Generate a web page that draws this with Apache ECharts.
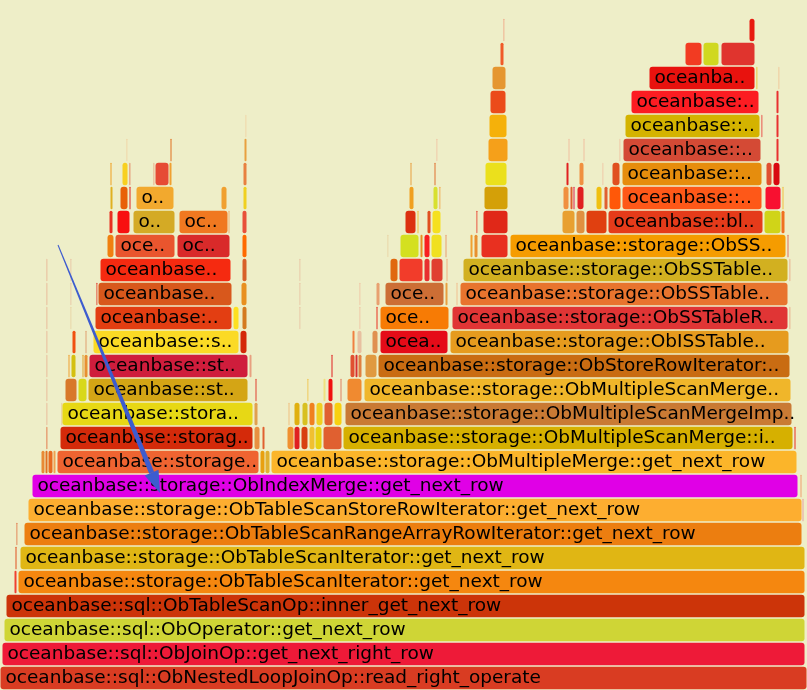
<!DOCTYPE html>
<html><head><meta charset="utf-8">
<script src="https://cdn.jsdelivr.net/npm/echarts@6/dist/echarts.min.js"></script>
<style>html,body{margin:0;padding:0;background:#eeeec8}#chart{width:807px;height:690px}</style>
</head><body><div id="chart"></div>
<script>
// Flame graph frames per stack level: [start, end, label] (x in sample units)
const level0 = [[0,807,'oceanbase::sql::ObNestedLoopJoinOp::read_right_operate']];
const level1 = [[2,805,'oceanbase::sql::ObJoinOp::get_next_right_row']];
const level2 = [[4,805,'oceanbase::sql::ObOperator::get_next_row']];
const level3 = [[6,805,'oceanbase::sql::ObTableScanOp::inner_get_next_row']];
const level4 = [[14,17,''],[18,805,'oceanbase::storage::ObTableScanIterator::get_next_row']];
const level5 = [[15,17,''],[20,805,'oceanbase::storage::ObTableScanIterator::get_next_row']];
const level6 = [[16,17,''],[24,802,'oceanbase::storage::ObTableScanRangeArrayRowIterator::get_next_row']];
const level7 = [[28,802,'oceanbase::storage::ObTableScanStoreRowIterator::get_next_row'],[802,804,'']];
const level8 = [[32,798,'oceanbase::storage::ObIndexMerge::get_next_row'],[800,802,'']];
const level9 = [[41,45,''],[45,48,''],[48,53,''],[53,56,''],[57,259,'oceanbase::storage..'],[260,265,''],[265,270,''],[271,797,'oceanbase::storage::ObMultipleMerge::get_next_row']];
const level10 = [[46,47,''],[60,253,'oceanbase::storag..'],[254,260,''],[262,265,''],[287,294,''],[294,300,''],[301,308,''],[309,315,''],[315,322,''],[323,342,''],[343,793,'oceanbase::storage::ObMultipleScanMerge::i..'],[794,796,'']];
const level11 = [[46,47,''],[61,62,''],[62,253,'oceanbase::stora..'],[254,258,''],[288,290,''],[294,300,''],[302,308,''],[309,315,''],[316,323,''],[324,333,''],[334,342,''],[345,792,'oceanbase::storage::ObMultipleScanMergeImp..']];
const level12 = [[46,47,''],[65,77,''],[78,87,''],[88,248,'oceanbase::st..'],[255,257,''],[307,308,''],[323,326,''],[328,333,''],[340,342,''],[347,362,''],[364,791,'oceanbase::storage::ObMultipleScanMerge..']];
const level13 = [[46,47,''],[68,70,''],[71,76,''],[82,84,''],[84,88,''],[89,248,'oceanbase::st..'],[249,252,''],[331,333,''],[350,355,''],[355,358,''],[358,362,''],[365,377,''],[378,790,'oceanbase::storage::ObStoreRowIterator:..']];
const level14 = [[46,47,''],[72,76,''],[85,87,''],[93,239,'oceanbase::s..'],[240,247,''],[352,355,''],[357,362,''],[372,378,''],[380,448,'ocea..'],[450,789,'oceanbase::storage::ObISSTable..']];
const level15 = [[46,47,''],[70,71,''],[95,232,'oceanbase:..'],[233,239,''],[242,247,''],[299,300,''],[359,360,''],[376,378,''],[380,449,'oce..'],[452,788,'oceanbase::storage::ObSSTableR..'],[789,790,'']];
const level16 = [[46,47,''],[70,71,''],[96,97,''],[98,232,'oceanbase..'],[241,247,''],[299,300,''],[359,360,''],[376,380,''],[385,444,'oce..'],[445,448,''],[456,458,''],[460,788,'oceanbase::storage::ObSSTable..']];
const level17 = [[46,47,''],[70,71,''],[100,231,'oceanbase..'],[242,247,''],[299,300,''],[390,398,''],[399,423,''],[424,430,''],[431,443,''],[446,448,''],[463,788,'oceanbase::storage::ObSSTable..'],[789,790,'']];
const level18 = [[107,114,''],[115,175,'oce..'],[177,230,'oc..'],[242,247,''],[387,388,''],[400,419,''],[420,423,''],[424,430,''],[431,442,''],[445,447,''],[470,473,''],[474,478,''],[481,508,''],[510,786,'oceanbase::storage::ObSS..'],[787,789,'']];
const level19 = [[109,113,''],[117,130,''],[133,175,'o..'],[179,228,'oc..'],[228,230,''],[242,247,''],[405,416,''],[417,419,''],[427,431,''],[432,441,''],[476,477,''],[483,508,''],[562,575,''],[576,585,''],[586,607,''],[608,763,'oceanbase::bl..'],[764,781,''],[781,785,'']];
const level20 = [[110,113,''],[120,128,''],[129,131,''],[136,174,'o..'],[221,227,''],[243,247,''],[409,414,''],[433,438,''],[439,440,''],[484,508,''],[563,569,''],[570,573,''],[573,575,''],[577,584,''],[596,602,''],[604,608,''],[609,621,''],[622,762,'oceanbase::..'],[765,781,''],[782,784,'']];
const level21 = [[110,112,''],[122,128,''],[129,130,''],[153,154,''],[155,169,''],[169,172,''],[243,247,''],[410,412,''],[434,436,''],[485,507,''],[566,569,''],[579,584,''],[602,603,''],[612,620,''],[622,762,'oceanbase::..'],[766,772,''],[773,780,'']];
const level22 = [[126,127,''],[170,172,''],[244,247,''],[436,437,''],[488,508,''],[568,570,''],[583,585,''],[619,620,''],[623,761,'oceanbase::..'],[776,779,'']];
const level23 = [[245,246,''],[489,507,''],[625,760,'oceanbase::..'],[761,762,''],[776,779,'']];
const level24 = [[490,506,''],[631,759,'oceanbase:..'],[776,779,'']];
const level25 = [[492,506,''],[649,755,'oceanba..'],[756,757,''],[778,779,'']];
const level26 = [[500,504,''],[685,702,''],[703,719,''],[721,755,'']];
const level27 = [[503,504,''],[749,755,'']];

// Fill colours, one per frame, same order as the level arrays (style only)
const colors = [
 ['#d93c22'],
 ['#ee1a38'],
 ['#cfd536'],
 ['#cc3409'],
 ['#f04030','#f5870f'],
 ['#e05020','#e0b614'],
 ['#e07040','#ec7e10'],
 ['#fdae30','#e8a0a0'],
 ['#e000e6','#f0a070'],
 ['#e88a35','#e07020','#e86a20','#f0a050','#ef6431','#e8a010','#e0b030','#fbb52a'],
 ['#e06030','#d42a0a','#e89040','#e06030','#f09030','#e02020','#d84010','#f0c030','#e8d010','#e06030','#d6b000','#e83020'],
 ['#e8b090','#e8c080','#e7d815','#e0a050','#f0c080','#e0b010','#d8c020','#f08020','#f0d020','#e06030','#f8d010','#c97a34'],
 ['#e8b090','#d8782a','#d8d81a','#d4a515','#e04030','#f0c040','#f0e080','#f01010','#e08060','#f08a30','#f0b62a'],
 ['#e8b090','#f0a030','#d4c010','#e0a030','#e89030','#cf1d3c','#e8a080','#e02020','#e05030','#d83030','#e08040','#e09a40','#c96c12'],
 ['#e8b090','#f05010','#e0a070','#fbda25','#d42808','#f08040','#e8c0a0','#e09050','#e50b18','#e69b1e'],
 ['#e8b090','#e8d0a0','#e33e12','#fde020','#d47a20','#e8c0a0','#f0c0a0','#e83020','#f77b05','#e03535','#e8a080'],
 ['#e8b090','#e8c0a0','#e03020','#d8581c','#e89020','#e8c0a0','#f0c0a0','#e8a070','#cc6e35','#e8a040','#f0c090','#e8742e'],
 ['#e8b090','#e8c0a0','#f52a10','#d8602a','#e8c0a0','#e06810','#f23c2a','#e83030','#e04030','#f0b080','#d2b020','#e8a080'],
 ['#f08010','#e9552e','#d92a2a','#ff6a00','#e8d0a0','#d4e020','#e89020','#f82020','#f0e020','#e8a070','#f0a030','#e89030','#e83020','#f59c00','#e07060'],
 ['#e83020','#f81010','#d4aa25','#f07820','#f0b070','#e8503a','#dc3010','#f0c040','#e05020','#f5e020','#e83020','#e02818','#e8a030','#e09040','#e04010','#e53b1a','#d0d418','#f07020'],
 ['#e0b020','#e86008','#e02020','#f2a92e','#f0a030','#f0d020','#f0a020','#d8e030','#f0a040','#d4a008','#f09040','#e06030','#e02050','#e02020','#f0c010','#e06030','#ff5808','#fe5818','#f81030','#f0c040'],
 ['#f0a020','#f8d020','#e07050','#e8a080','#e64b35','#f0a030','#e88040','#e8a040','#e07030','#ebe01c','#e02020','#f09040','#f0c0a0','#e05020','#e68d0d','#e05030','#d80810'],
 ['#f0d0a0','#e07020','#e8a040','#f0c0a0','#f5a01a','#f0c0a0','#f0c0a0','#f0c0a0','#d44a35','#e83030'],
 ['#f0d0a0','#f5b10a','#d4b300','#e83030','#e83030'],
 ['#eb4b1a','#fc1c22','#e83030'],
 ['#e59630','#e8120e','#e8c020','#f0c090'],
 ['#f05a28','#f23b22','#d0d820','#e0342e'],
 ['#f0a080','#e81a10']
];

const levels = [level0,level1,level2,level3,level4,level5,level6,level7,level8,level9,level10,level11,level12,level13,level14,level15,level16,level17,level18,level19,level20,level21,level22,level23,level24,level25,level26,level27];

const seriesData = [];
const labels = [];
const fills = [];
levels.forEach((lv, li) => {
  lv.forEach((f, fi) => {
    seriesData.push([f[0], f[1], li]);
    labels.push(f[2]);
    fills.push((colors[li] && colors[li][fi]) || '#e8a040');
  });
});

function renderItem(params, api) {
  const s = api.value(0), e = api.value(1), lv = api.value(2);
  const a = api.coord([s, lv + 1]);
  const b = api.coord([e, lv]);
  const x = a[0] + 0.5, y = a[1] + 0.75;
  const w = Math.max(b[0] - a[0] - 1, 0.8);
  const h = b[1] - a[1] - 1.5;
  const r = w > 6 ? 3 : Math.min(w / 2, 3);
  const children = [{
    type: 'rect',
    shape: { x: x, y: y, width: w, height: h, r: r },
    style: { fill: fills[params.dataIndex] }
  }];
  const t = labels[params.dataIndex];
  if (t) {
    children.push({
      type: 'text',
      style: {
        text: t, x: x + 5, y: y + h / 2 + 0.5,
        verticalAlign: 'middle', align: 'left',
        fill: '#000', font: '18.5px "DejaVu Sans"'
      }
    });
  }
  return { type: 'group', children: children };
}

// annotation arrow (drawn in pixel space)
const tip = [160, 493], tail = [58, 245];
const dx = tip[0] - tail[0], dy = tip[1] - tail[1];
const len = Math.hypot(dx, dy);
const ux = dx / len, uy = dy / len, px = -uy, py = ux;
const headLen = 22, headHalf = 7.5;
const bc = [tip[0] - ux * headLen, tip[1] - uy * headLen];
const arrowColor = '#3d5ccf';

const chart = echarts.init(document.getElementById('chart'), null, { renderer: 'canvas' });
chart.setOption({
  backgroundColor: '#eeeec8',
  animation: false,
  grid: { left: 0, right: 0, top: 0, bottom: 0 },
  xAxis: { type: 'value', min: 0, max: 807, show: false },
  yAxis: { type: 'value', min: 0, max: 28.75, show: false },
  series: [{
    type: 'custom',
    renderItem: renderItem,
    encode: { x: [0, 1], y: 2 },
    data: seriesData,
    clip: false
  }],
  graphic: [
    { type: 'polygon', z: 100, shape: { points: [
      [tail[0] + px * 0.5, tail[1] + py * 0.5],
      [bc[0] + px * 2.6, bc[1] + py * 2.6],
      [bc[0] - px * 2.6, bc[1] - py * 2.6],
      [tail[0] - px * 0.5, tail[1] - py * 0.5]
    ] }, style: { fill: arrowColor } },
    { type: 'polygon', z: 100, shape: { points: [
      [bc[0] + px * headHalf, bc[1] + py * headHalf],
      tip,
      [bc[0] - px * headHalf, bc[1] - py * headHalf]
    ] }, style: { fill: arrowColor } }
  ]
});
</script>
</body></html>
